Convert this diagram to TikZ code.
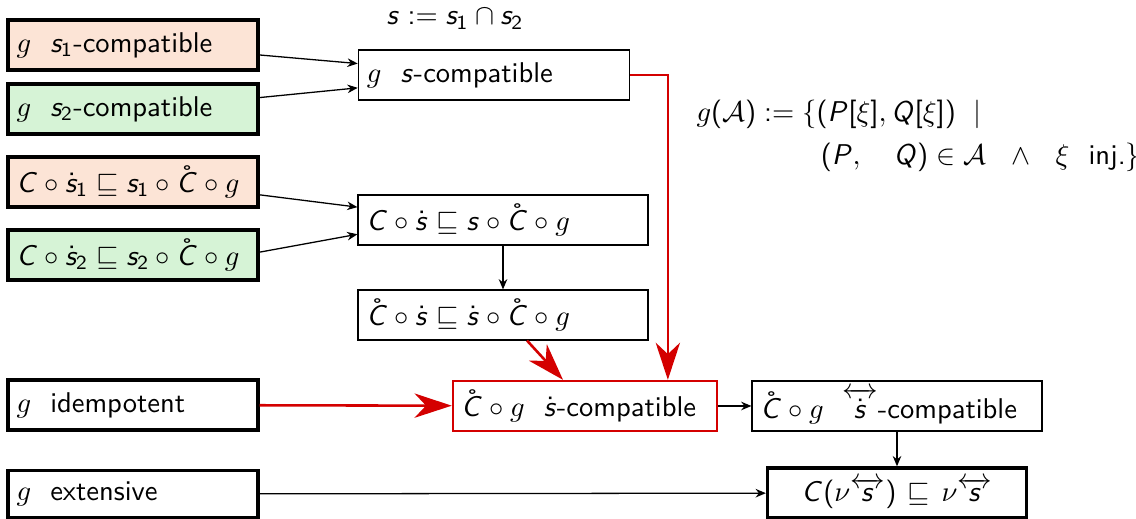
\documentclass[tikz,border=0pt]{standalone}
\usepackage{amsmath}
\usetikzlibrary{arrows.meta}
\renewcommand\familydefault{\sfdefault}
\DeclareSymbolFont{sfitalic}{OT1}{cmss}{m}{sl}
\SetSymbolFont{operators}{normal}{OT1}{cmss}{m}{n}
\DeclareMathSymbol{s}{\mathalpha}{sfitalic}{`s}
\DeclareMathSymbol{C}{\mathalpha}{sfitalic}{`C}
\DeclareMathSymbol{P}{\mathalpha}{sfitalic}{`P}
\DeclareMathSymbol{Q}{\mathalpha}{sfitalic}{`Q}
\definecolor{peach}{HTML}{FCE4D6}
\definecolor{mint}{HTML}{D6F3D6}
\definecolor{arrred}{HTML}{D40000}
\begin{document}
\begin{tikzpicture}[
  x=0.35pt, y=-0.35pt,
  font=\normalsize,
  box/.style={draw, line width=.4pt, minimum height=17.5pt, text width=#1,
              align=left, inner xsep=3pt, inner ysep=0pt},
  prem/.style={box=81.5pt, line width=1.2pt},
  flow/.style={-{Stealth[length=3.6pt,width=3pt]}, line width=.45pt},
  redflow/.style={-{Stealth[length=13pt,width=8.5pt,inset=4pt]}, line width=.9pt, draw=arrred}
]
  \useasboundingbox (0,0) rectangle (1136,519);
  \node[prem, fill=peach] (s1c) at (133,45) {$g$\ \ $s_1$-compatible};
  \node[prem, fill=mint] (s2c) at (133,109) {$g$\ \ $s_2$-compatible};
  \node[prem, fill=peach] (cs1) at (133,182) {$C\circ\dot{s}_1\sqsubseteq s_1\circ\mathring{C}\circ g$};
  \node[prem, fill=mint] (cs2) at (133,255) {$C\circ\dot{s}_2\sqsubseteq s_2\circ\mathring{C}\circ g$};
  \node (slabel) at (455,19) {$s := s_1\cap s_2$};
  \node[box=89pt] (scomp) at (494,75) {$g$\ \ $s$-compatible};
  \node[box=95.5pt] (cs) at (503,220) {$C\circ\dot{s}\sqsubseteq s\circ\mathring{C}\circ g$};
  \node[box=95.5pt] (ccs) at (503,315) {$\mathring{C}\circ\dot{s}\sqsubseteq \dot{s}\circ\mathring{C}\circ g$};
  \node[prem] (gidem) at (133,405) {$g$\ \ idempotent};
  \node[box=86.5pt, draw=arrred, line width=.8pt] (sdot) at (585,406) {$\mathring{C}\circ g$\ \ $\dot{s}$-compatible};
  \node[box=95.5pt] (sbi) at (897,406) {$\mathring{C}\circ g$\ \ $\overleftrightarrow{\dot{s}}$-compatible};
  \node[prem, minimum height=16.5pt] (gext) at (133,494) {$g$\ \ extensive};
  \node[box=84.6pt, align=center, line width=1.2pt] (final) at (897,493) {$C(\nu\overleftrightarrow{s})\sqsubseteq\nu\overleftrightarrow{s}$};
  \node[align=left, anchor=west, inner sep=0pt] (gA) at (696,136)
    {$g(\mathcal{A}) := \{(P[\xi], Q[\xi])\ \mid$\\[3pt]
     \hspace*{43.5pt}$(P,\quad Q)\in\mathcal{A}\ \ \wedge\ \ \xi$\ \ inj.$\}$};
  % premises into the combined nodes
  \draw[flow] ([yshift=-3.5pt]s1c.east) -- ([yshift=4pt]scomp.west);
  \draw[flow] ([yshift=4pt]s2c.east) -- ([yshift=-4.5pt]scomp.west);
  \draw[flow] ([yshift=-4.5pt]cs1.east) -- ([yshift=4.5pt]cs.west);
  \draw[flow] ([yshift=1pt]cs2.east) -- ([yshift=-5pt]cs.west);
  \draw[flow] (cs) -- (ccs);
  % red steps
  \draw[redflow] (scomp.east) -| ([xshift=29pt]sdot.north);
  \draw[redflow] ([xshift=8.4pt]ccs.south) -- ([xshift=-7.7pt]sdot.north);
  \draw[redflow] (gidem) -- (sdot);
  \draw[flow] (sdot) -- (sbi);
  \draw[flow] (sbi) -- (final);
  \draw[flow] (gext) -- (final);
\end{tikzpicture}
\end{document}
